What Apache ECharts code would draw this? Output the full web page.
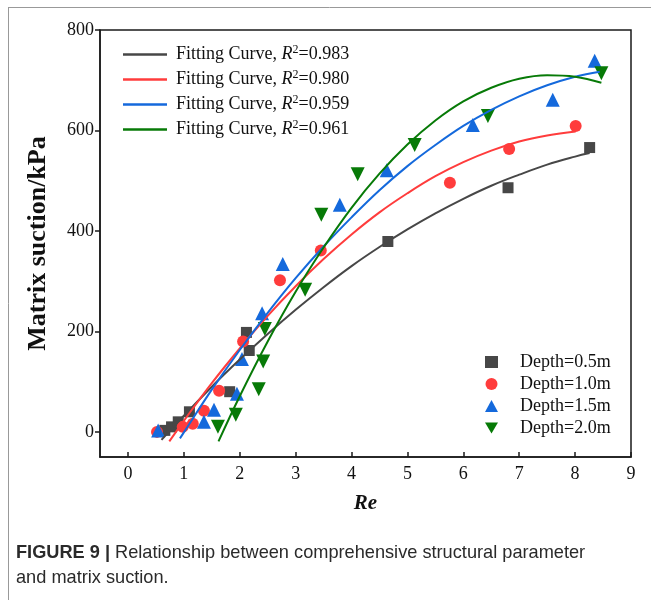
<!DOCTYPE html>
<html><head><meta charset="utf-8">
<script src="https://cdn.jsdelivr.net/npm/echarts@6/dist/echarts.min.js"></script>
<style>html,body{margin:0;padding:0;background:#fff}#c{width:651px;height:600px}</style>
</head><body><div id="c"></div>
<script>
// ---- data ----
const depthNames = ['Depth=0.5m', 'Depth=1.0m', 'Depth=1.5m', 'Depth=2.0m'];
const curveR2 = ['0.983', '0.980', '0.959', '0.961'];
const xTicks = [0, 1, 2, 3, 4, 5, 6, 7, 8, 9];
const yTicks = [0, 200, 400, 600, 800];

const pts05 = [[0.66, 3], [0.78, 10], [0.9, 20], [1.1, 40], [1.82, 80], [2.12, 198], [2.17, 162], [4.65, 379], [6.8, 486], [8.26, 566]];
const pts10 = [[0.52, 0], [0.98, 10], [1.16, 16], [1.36, 42], [1.63, 82], [2.06, 180], [2.72, 302], [3.45, 361], [5.76, 496], [6.82, 563], [8.01, 609]];
const pts15 = [[0.54, 3], [1.36, 20], [1.54, 44], [1.95, 76], [2.04, 145], [2.40, 236], [2.77, 334], [3.79, 452], [4.63, 521], [6.17, 611], [7.6, 661], [8.35, 739]];
const pts20 = [[1.61, 10], [1.93, 34], [2.34, 85], [2.42, 140], [2.45, 205], [3.17, 283], [3.46, 432], [4.11, 513], [5.13, 571], [6.44, 629], [8.47, 714]];

const fit05 = [[0.6, -16], [1, 32], [1.5, 90], [2, 144], [2.5, 195], [3, 243], [3.5, 288], [4, 330], [4.5, 368], [5, 403], [5.5, 435], [6, 464], [6.5, 490], [7, 512], [7.5, 532], [8, 548], [8.26, 555]];
const fit10 = [[0.74, -19], [1, 22], [1.5, 97], [2, 166], [2.5, 231], [3, 290], [3.5, 344], [4, 393], [4.5, 437], [5, 475], [5.5, 509], [6, 537], [6.5, 560], [7, 578], [7.5, 590], [8.01, 598]];
const fit15 = [[0.93, -13], [1, -1], [1.5, 84], [2, 163], [2.5, 237], [3, 306], [3.5, 369], [4, 427], [4.5, 481], [5, 529], [5.5, 571], [6, 609], [6.5, 641], [7, 668], [7.5, 690], [8, 707], [8.44, 717]];
const fit20 = [[1.62, -19], [2, 71], [2.5, 180], [3, 279], [3.5, 367], [4, 446], [4.5, 514], [5, 572], [5.5, 620], [6, 658], [6.5, 685], [7, 703], [7.5, 710], [8, 707], [8.47, 695]];

// ---- styling ----
const colors = ['#474747', '#ff3c3c', '#1469dc', '#077a07'];
const serif = 'Liberation Serif';
const curves = [fit05, fit10, fit15, fit20];
const points = [pts05, pts10, pts15, pts20];
const symbols = ['rect', 'circle', 'triangle', 'triangle'];
const legendIcons = ['rect', 'circle', 'triangle', 'path://M0,0 L12,0 L6,10 Z'];
const symbolSizes = [11, 12, 14, 14];
const symbolRot = [0, 0, 0, 180];
const curveNames = curveR2.map(r => 'Fitting Curve, R2=' + r);

const series = [];
curves.forEach((c, i) => series.push({
  name: curveNames[i], type: 'line', data: c, smooth: 0.4, symbol: 'none', showSymbol: false,
  lineStyle: { color: colors[i], width: 2 }, itemStyle: { color: colors[i] }, z: 3
}));
points.forEach((p, i) => series.push({
  name: depthNames[i], type: 'scatter', data: p, symbol: symbols[i], symbolSize: symbolSizes[i],
  symbolRotate: symbolRot[i], itemStyle: { color: colors[i], opacity: 1 }, z: 2
}));

const chart = echarts.init(document.getElementById('c'), null, { renderer: 'canvas' });
chart.setOption({
  backgroundColor: '#fff',
  animation: false,
  grid: { left: 100, top: 30, width: 531, height: 427, show: true, borderColor: '#1a1a1a', borderWidth: 1.5 },
  xAxis: {
    type: 'value', min: -0.5, max: 9,
    name: 'Re', nameLocation: 'middle', nameGap: 36,
    nameTextStyle: { fontFamily: serif, fontSize: 21, fontWeight: 'bold', fontStyle: 'italic', color: '#111' },
    axisLine: { show: true, onZero: false, lineStyle: { color: '#1a1a1a', width: 1.5 } },
    axisTick: { show: true, inside: true, length: 5, customValues: xTicks, lineStyle: { color: '#1a1a1a', width: 1.5 } },
    axisLabel: { customValues: xTicks, margin: 8, fontFamily: serif, fontSize: 18, color: '#111' },
    splitLine: { show: false }
  },
  yAxis: {
    type: 'value', min: -50, max: 800,
    name: 'Matrix suction/kPa', nameLocation: 'middle', nameGap: 49, nameRotate: 90,
    nameTextStyle: { fontFamily: serif, fontSize: 26, fontWeight: 'bold', color: '#111' },
    axisLine: { show: true, onZero: false, lineStyle: { color: '#1a1a1a', width: 1.5 } },
    axisTick: { show: true, inside: false, length: 5, customValues: yTicks, lineStyle: { color: '#1a1a1a', width: 1.5 } },
    axisLabel: { customValues: yTicks, margin: 6, fontFamily: serif, fontSize: 18, color: '#111' },
    splitLine: { show: false }
  },
  legend: [{
    data: curveNames, orient: 'vertical', left: 118, top: 39, icon: 'rect', itemWidth: 44, itemHeight: 2.5, itemGap: 5.5,
    formatter: name => 'Fitting Curve, {i|R}{s|2}=' + name.split('=')[1],
    textStyle: {
      fontFamily: serif, fontSize: 18, color: '#111', lineHeight: 18, padding: [0, 0, 0, 4],
      rich: {
        i: { fontFamily: serif, fontSize: 18, fontStyle: 'italic', color: '#111', lineHeight: 18 },
        s: { fontFamily: serif, fontSize: 12, color: '#111', padding: [0, 0, 9, 0] }
      }
    }
  }, {
    data: depthNames.map((n, i) => ({ name: n, icon: legendIcons[i] })),
    orient: 'vertical', left: 480, top: 348, itemWidth: 13, itemHeight: 12, itemGap: 4,
    textStyle: { fontFamily: serif, fontSize: 18, color: '#111', lineHeight: 18, padding: [0, 0, 0, 17] }
  }],
  graphic: [
    { type: 'line', shape: { x1: 8.5, y1: 7, x2: 8.5, y2: 600 }, style: { stroke: '#999', lineWidth: 1 }, silent: true },
    { type: 'line', shape: { x1: 8, y1: 7.5, x2: 651, y2: 7.5 }, style: { stroke: '#999', lineWidth: 1 }, silent: true },
    {
      type: 'text', left: 16, top: 544, silent: true,
      style: {
        text: '{b|FIGURE 9 |} Relationship between comprehensive structural parameter',
        font: '18.2px "Liberation Sans"', fill: '#2a2a2a',
        rich: { b: { font: 'bold 18.2px "Liberation Sans"', fill: '#2a2a2a' } }
      }
    },
    {
      type: 'text', left: 16, top: 569, silent: true,
      style: { text: 'and matrix suction.', font: '18.2px "Liberation Sans"', fill: '#2a2a2a' }
    }
  ],
  series: series
});
</script></body></html>
